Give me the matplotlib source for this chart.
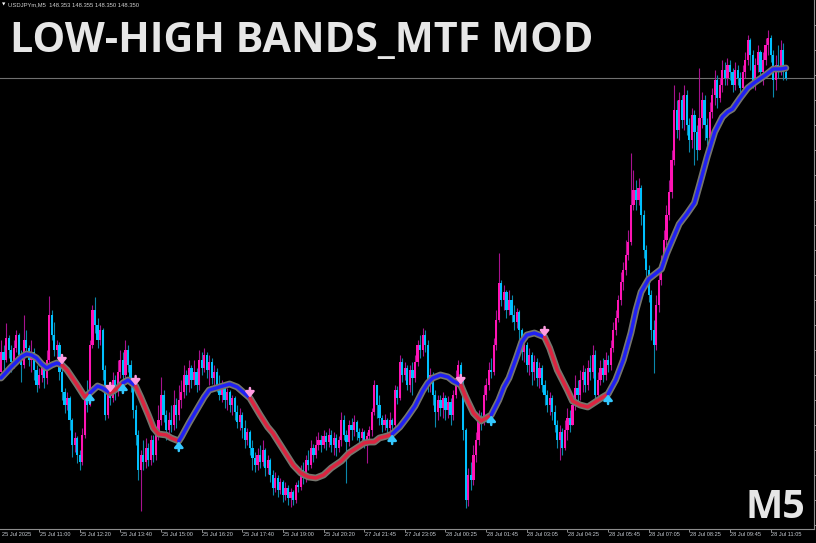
import numpy as np
import matplotlib
matplotlib.use("Agg")
import matplotlib.pyplot as plt
from matplotlib.transforms import blended_transform_factory, offset_copy

# USDJPYm M5 candles (open = previous close)
first_open = 147.174

closes = [
    147.254, 147.222, 147.310, 147.262, 147.214, 147.270, 147.322, 147.242, 147.202, 147.302,
    147.270, 147.222, 147.254, 147.182, 147.122, 147.162, 147.190, 147.150, 147.222, 147.402,
    147.322, 147.262, 147.282, 147.174, 147.094,
    147.042, 147.070, 146.982, 146.882, 146.910, 146.842, 146.814, 146.922, 147.062, 147.042,
    147.282, 147.422, 147.362, 147.302, 147.342, 147.182, 147.002, 147.102, 147.070, 147.142,
    147.094, 147.174, 147.222, 147.162, 147.262,
    147.202, 147.122, 147.022, 146.922, 146.782, 146.842, 146.814, 146.870, 146.822, 146.902,
    146.842, 146.922, 146.982, 147.082, 147.002, 146.942, 146.982, 146.962, 147.042, 147.002,
    147.062, 147.094, 147.162, 147.122, 147.190,
    147.142, 147.174, 147.122, 147.222, 147.190, 147.242, 147.182, 147.214, 147.150, 147.174,
    147.122, 147.082, 147.110, 147.062, 147.094, 147.042, 147.070, 147.014, 146.974, 147.002,
    146.950, 146.902, 146.934, 146.870, 146.830,
    146.802, 146.842, 146.814, 146.862, 146.790, 146.822, 146.762, 146.710, 146.750, 146.702,
    146.734, 146.682, 146.710, 146.670, 146.694, 146.662, 146.722, 146.714, 146.782, 146.750,
    146.822, 146.802, 146.870, 146.842, 146.882,
    146.902, 146.882, 146.918, 146.894, 146.922, 146.882, 146.910, 146.870, 146.902, 146.982,
    146.922, 146.894, 146.962, 146.942, 146.974, 146.934, 146.910, 146.934, 146.902, 146.918,
    146.942, 147.014, 147.122, 147.042, 146.990,
    146.962, 146.982, 146.950, 146.982, 146.962, 147.102, 147.070, 147.214, 147.162, 147.190,
    147.122, 147.182, 147.150, 147.214, 147.282, 147.262, 147.322, 147.282, 147.122, 147.162,
    147.082, 147.014, 147.062, 147.030, 147.070,
    147.022, 147.054, 147.002, 147.082, 147.150, 147.202, 147.122, 146.942, 146.662, 146.762,
    146.742, 146.842, 146.902, 146.990, 146.974, 147.082, 147.122, 147.182, 147.174, 147.282,
    147.382, 147.530, 147.462, 147.494, 147.422,
    147.462, 147.402, 147.374, 147.414, 147.342, 147.254, 147.282, 147.202, 147.242, 147.174,
    147.214, 147.150, 147.190, 147.122, 147.082, 147.042, 147.070, 147.014, 146.962, 146.902,
    146.934, 146.870, 146.942, 146.990, 146.962,
    147.042, 147.110, 147.082, 147.142, 147.174, 147.122, 147.190, 147.174, 147.242, 147.082,
    147.142, 147.190, 147.162, 147.222, 147.202, 147.270, 147.342, 147.390, 147.462, 147.534,
    147.582, 147.642, 147.694, 147.842, 147.902,
    147.862, 147.910, 147.802, 147.662, 147.582, 147.482, 147.342, 147.282, 147.442, 147.542,
    147.614, 147.702, 147.802, 147.894, 148.022, 148.222, 148.142, 148.262, 148.182, 148.282,
    148.162, 148.102, 148.202, 148.134, 148.062,
    148.190, 148.262, 148.162, 148.110, 148.214, 148.282, 148.342, 148.270, 148.322, 148.382,
    148.350, 148.402, 148.374, 148.322, 148.382, 148.350, 148.310, 148.374, 148.422, 148.502,
    148.442, 148.334, 148.402, 148.454, 148.374, 148.422, 148.482, 148.510, 148.442, 148.342,
    148.402, 148.382, 148.462, 148.374, 148.350,
]

highs = [
    147.302, 147.282, 147.370, 147.322, 147.282, 147.302, 147.342, 147.330, 147.262, 147.402,
    147.342, 147.282, 147.302, 147.270, 147.202, 147.190, 147.222, 147.214, 147.262, 147.478,
    147.422, 147.374, 147.302, 147.294, 147.190,
    147.110, 147.094, 147.078, 146.990, 146.934, 146.918, 146.862, 146.950, 147.082, 147.142,
    147.302, 147.442, 147.474, 147.390, 147.362, 147.350, 147.202, 147.122, 147.134, 147.174,
    147.162, 147.222, 147.262, 147.254, 147.302,
    147.282, 147.222, 147.134, 147.042, 146.942, 146.862, 146.902, 146.910, 146.890, 146.922,
    146.922, 146.942, 147.042, 147.154, 147.102, 147.022, 147.014, 147.042, 147.102, 147.070,
    147.122, 147.142, 147.202, 147.182, 147.222,
    147.202, 147.222, 147.190, 147.262, 147.254, 147.270, 147.254, 147.242, 147.230, 147.202,
    147.190, 147.162, 147.142, 147.122, 147.110, 147.102, 147.082, 147.078, 147.042, 147.030,
    147.014, 146.982, 146.950, 146.942, 146.902,
    146.854, 146.870, 146.882, 146.902, 146.870, 146.842, 146.830, 146.782, 146.774, 146.762,
    146.750, 146.742, 146.734, 146.722, 146.710, 146.702, 146.734, 146.742, 146.802, 146.814,
    146.842, 146.862, 146.902, 146.886, 146.918,
    146.934, 146.922, 146.942, 146.934, 146.950, 146.942, 146.934, 146.926, 146.918, 147.014,
    147.002, 146.942, 146.982, 146.990, 147.002, 146.982, 146.950, 146.950, 146.942, 146.934,
    146.958, 147.030, 147.142, 147.118, 147.082,
    147.002, 147.006, 146.990, 147.014, 146.990, 147.122, 147.118, 147.242, 147.230, 147.214,
    147.202, 147.202, 147.214, 147.242, 147.302, 147.322, 147.350, 147.342, 147.302, 147.190,
    147.174, 147.102, 147.082, 147.082, 147.094,
    147.082, 147.078, 147.070, 147.102, 147.182, 147.222, 147.214, 147.142, 146.950, 146.790,
    146.814, 146.882, 146.934, 147.022, 147.014, 147.122, 147.150, 147.214, 147.230, 147.310,
    147.422, 147.650, 147.542, 147.522, 147.502,
    147.502, 147.482, 147.442, 147.430, 147.422, 147.350, 147.322, 147.294, 147.270, 147.254,
    147.242, 147.230, 147.214, 147.202, 147.142, 147.102, 147.094, 147.082, 147.042, 146.982,
    146.962, 146.950, 146.982, 147.030, 147.022,
    147.082, 147.162, 147.142, 147.182, 147.202, 147.190, 147.222, 147.242, 147.282, 147.262,
    147.174, 147.222, 147.230, 147.254, 147.242, 147.302, 147.374, 147.422, 147.482, 147.574,
    147.614, 147.702, 147.742, 148.050, 147.982,
    147.942, 147.950, 147.922, 147.822, 147.682, 147.602, 147.502, 147.382, 147.482, 147.582,
    147.642, 147.742, 147.842, 147.942, 148.062, 148.322, 148.262, 148.294, 148.282, 148.322,
    148.302, 148.190, 148.230, 148.222, 148.162,
    148.390, 148.294, 148.282, 148.190, 148.254, 148.310, 148.382, 148.362, 148.350, 148.422,
    148.414, 148.430, 148.422, 148.390, 148.414, 148.402, 148.374, 148.402, 148.454, 148.522,
    148.510, 148.462, 148.430, 148.482, 148.462, 148.454, 148.510, 148.542, 148.522, 148.462,
    148.442, 148.482, 148.502, 148.490, 148.382,
]

lows = [
    147.174, 147.182, 147.214, 147.230, 147.174, 147.190, 147.254, 147.214, 147.134, 147.190,
    147.238, 147.198, 147.174, 147.142, 147.094, 147.110, 147.134, 147.110, 147.126, 147.214,
    147.302, 147.238, 147.230, 147.142, 147.062,
    147.010, 147.022, 146.942, 146.834, 146.854, 146.810, 146.782, 146.802, 146.910, 147.014,
    147.038, 147.270, 147.330, 147.270, 147.282, 147.142, 146.982, 146.990, 147.042, 147.054,
    147.062, 147.078, 147.150, 147.134, 147.150,
    147.174, 147.094, 146.990, 146.882, 146.742, 146.618, 146.782, 146.790, 146.798, 146.802,
    146.814, 146.822, 146.902, 146.962, 146.974, 146.902, 146.918, 146.934, 146.942, 146.950,
    146.982, 147.030, 147.070, 147.082, 147.094,
    147.110, 147.122, 147.094, 147.102, 147.162, 147.174, 147.150, 147.122, 147.126, 147.102,
    147.094, 147.062, 147.054, 147.030, 147.022, 147.014, 147.002, 146.982, 146.950, 146.942,
    146.910, 146.870, 146.882, 146.842, 146.782,
    146.774, 146.782, 146.790, 146.798, 146.758, 146.766, 146.734, 146.682, 146.694, 146.674,
    146.686, 146.654, 146.662, 146.642, 146.634, 146.642, 146.650, 146.694, 146.702, 146.726,
    146.734, 146.782, 146.790, 146.814, 146.830,
    146.862, 146.854, 146.870, 146.862, 146.874, 146.854, 146.842, 146.838, 146.854, 146.878,
    146.902, 146.730, 146.878, 146.902, 146.918, 146.902, 146.882, 146.894, 146.870, 146.810,
    146.894, 146.918, 147.002, 146.990, 146.962,
    146.934, 146.942, 146.918, 146.934, 146.926, 146.950, 147.046, 147.062, 147.134, 147.142,
    147.102, 147.094, 147.082, 147.134, 147.198, 147.230, 147.238, 147.254, 147.094, 147.094,
    147.042, 146.954, 146.982, 146.998, 146.990,
    146.982, 146.990, 146.962, 146.982, 147.070, 147.122, 147.094, 146.902, 146.630, 146.638,
    146.702, 146.722, 146.814, 146.882, 146.942, 146.962, 147.062, 147.102, 147.150, 147.162,
    147.262, 147.374, 147.438, 147.422, 147.390,
    147.402, 147.374, 147.342, 147.350, 147.302, 147.222, 147.214, 147.174, 147.162, 147.122,
    147.142, 147.118, 147.110, 147.094, 147.042, 147.014, 147.002, 146.982, 146.934, 146.870,
    146.822, 146.842, 146.862, 146.902, 146.934,
    147.014, 147.022, 147.054, 147.062, 147.094, 147.094, 147.102, 147.142, 147.150, 147.050,
    147.062, 147.122, 147.134, 147.142, 147.174, 147.182, 147.254, 147.322, 147.374, 147.442,
    147.502, 147.562, 147.622, 147.682, 147.822,
    147.822, 147.842, 147.762, 147.630, 147.542, 147.454, 147.302, 147.170, 147.262, 147.414,
    147.522, 147.590, 147.682, 147.782, 147.870, 148.002, 148.110, 148.102, 148.150, 148.142,
    148.122, 148.054, 148.070, 148.002, 148.022,
    148.162, 148.150, 148.102, 148.082, 148.094, 148.190, 148.242, 148.230, 148.254, 148.294,
    148.322, 148.322, 148.342, 148.294, 148.302, 148.322, 148.282, 148.294, 148.350, 148.402,
    148.382, 148.310, 148.302, 148.374, 148.342, 148.322, 148.402, 148.442, 148.414, 148.274,
    148.302, 148.350, 148.362, 148.342, 148.342,
]

# Low-High band centre line (sampled at these bar numbers)
band_bars = [0, 4, 8, 10, 12, 14, 16, 18, 20, 22, 24, 26, 30, 33, 35, 38, 40, 43, 46, 48,
             50, 53, 55, 58, 60, 62, 65, 67, 70, 71, 74, 77, 80, 82, 86, 90, 93, 98, 102, 105,
             107, 112, 115, 118, 121, 124, 127, 130, 134, 137, 140, 143, 145, 147, 149, 152, 154, 157, 160, 163,
             166, 168, 170, 173, 176, 178, 181, 183, 186, 189, 191, 193, 196, 198, 200, 203, 205, 207, 210, 214,
             216, 219, 223, 225, 228, 231, 234, 237, 239, 242, 245, 248, 250, 252, 255, 258, 260, 262, 265, 267,
             270, 273, 275, 278, 281, 284, 286, 288, 291, 294, 297, 301, 304, 307, 309]
band_vals = [147.150, 147.194, 147.234, 147.246, 147.242, 147.230, 147.206, 147.190, 147.202, 147.210,
             147.202, 147.182, 147.122, 147.074, 147.090, 147.118, 147.110, 147.090, 147.110, 147.130,
             147.142, 147.118, 147.074, 147.002, 146.950, 146.926, 146.922, 146.910, 146.898, 146.914,
             146.970, 147.022, 147.074, 147.102, 147.114, 147.126, 147.114, 147.070, 147.002, 146.954,
             146.930, 146.850, 146.802, 146.770, 146.754, 146.750, 146.762, 146.790, 146.818, 146.850,
             146.870, 146.890, 146.894, 146.894, 146.910, 146.918, 146.926, 146.954, 146.994, 147.038,
             147.098, 147.130, 147.150, 147.162, 147.154, 147.138, 147.122, 147.074, 147.010, 146.978,
             146.990, 147.002, 147.062, 147.114, 147.150, 147.234, 147.294, 147.322, 147.330, 147.314,
             147.270, 147.182, 147.102, 147.058, 147.042, 147.034, 147.054, 147.074, 147.086, 147.142,
             147.222, 147.330, 147.422, 147.494, 147.546, 147.570, 147.586, 147.646, 147.718, 147.766,
             147.806, 147.850, 147.922, 148.034, 148.134, 148.194, 148.214, 148.226, 148.270, 148.310,
             148.334, 148.362, 148.386, 148.386, 148.390]

down_arrows = [24, 43, 53, 98, 181, 214]
up_arrows = [35, 48, 70, 154, 193, 239]

bid = 148.350
header = "USDJPYm,M5  148.353 148.355 148.350 148.350"
title = "LOW-HIGH BANDS_MTF MOD"
tf_label = "M5"

time_bars = [0, 15, 31, 47, 63, 79, 95, 111, 127, 143, 159, 175, 191, 207, 223, 239, 255, 271, 287, 303]
time_labels = ["25 Jul 2025", "25 Jul 11:00", "25 Jul 12:20", "25 Jul 13:40", "25 Jul 15:00",
               "25 Jul 16:20", "25 Jul 17:40", "25 Jul 19:00", "25 Jul 20:20", "27 Jul 21:45",
               "27 Jul 23:05", "28 Jul 00:25", "28 Jul 01:45", "28 Jul 03:05", "28 Jul 04:25",
               "28 Jul 05:45", "28 Jul 07:05", "28 Jul 08:25", "28 Jul 09:45", "28 Jul 11:05"]

UP_BODY, UP_WICK = "#ff14b4", "#a8128f"
DN_BODY, DN_WICK = "#00c0ff", "#0a88ac"
AXIS_COL = "#8c8c8c"

c = np.array(closes)
o = np.concatenate([[first_open], c[:-1]])
h = np.maximum(np.array(highs), np.maximum(o, c))
l = np.minimum(np.array(lows), np.minimum(o, c))
x = np.arange(len(c))
up = c >= o

fig = plt.figure(figsize=(8.16, 5.43), dpi=100, facecolor="black")
ax = fig.add_axes([0, 14 / 543, 814 / 816, 529 / 543])
ax.set_facecolor("black")

ax.axhline(bid, color="#707070", lw=0.8, zorder=1.5)

# candles
ax.vlines(x, l, h, colors=np.where(up, UP_WICK, DN_WICK), lw=0.8, zorder=2)
ax.bar(x, np.maximum(np.abs(c - o), 0.004), bottom=np.minimum(o, c), width=0.86,
       color=np.where(up, UP_BODY, DN_BODY), linewidth=0, zorder=3)

# band line: grey outline, then coloured by trend
bb = np.array(band_bars)
bv = np.array(band_vals)
ax.plot(bb, bv, color="#76766e", lw=4.9, solid_capstyle="round", solid_joinstyle="round", zorder=4)
switches = sorted([(0, "up")] + [(i, "dn") for i in down_arrows] + [(i, "up") for i in up_arrows])
for k, (start, trend) in enumerate(switches):
    end = switches[k + 1][0] if k + 1 < len(switches) else bb[-1]
    m = (bb >= start) & (bb <= end)
    ax.plot(bb[m], bv[m], color="#2020f4" if trend == "up" else "#dc2440", lw=2.5,
            solid_capstyle="round", solid_joinstyle="round", zorder=5)

# trend change arrows
lookup = dict(zip(band_bars, band_vals))
for i in down_arrows:
    ax.annotate("", xy=(i, lookup[i] + 0.002), xytext=(i, lookup[i] + 0.040), zorder=6,
                arrowprops=dict(arrowstyle="-|>,head_width=0.26,head_length=0.32", color="#ff9be0",
                                lw=1.8, mutation_scale=10, shrinkA=0, shrinkB=0))
for i in up_arrows:
    ax.annotate("", xy=(i, lookup[i] - 0.002), xytext=(i, lookup[i] - 0.040), zorder=6,
                arrowprops=dict(arrowstyle="-|>,head_width=0.26,head_length=0.32", color="#34c8ff",
                                lw=1.8, mutation_scale=10, shrinkA=0, shrinkB=0))

ax.set_xlim(-0.394, 320.08)
ax.set_ylim(146.546, 148.662)

for s in ["top", "left"]:
    ax.spines[s].set_visible(False)
for s in ["bottom", "right"]:
    ax.spines[s].set_color(AXIS_COL)
    ax.spines[s].set_linewidth(0.8)

ax.yaxis.tick_right()
ax.set_yticks(np.arange(146.562, 148.6, 0.1))
ax.set_yticklabels([])
ax.set_xticks(time_bars[1:])
ax.set_xticklabels([])
ax.tick_params(axis="both", colors=AXIS_COL, length=2.5, width=0.7, direction="out")

trans = offset_copy(blended_transform_factory(ax.transData, ax.transAxes), fig=fig, x=0.5, y=-3.2, units="dots")
for b, lab in zip(time_bars, time_labels):
    ax.text(b, 0, lab, transform=trans, ha="left", va="top", fontsize=4.1,
            family="Liberation Sans", color="#c8cdd4", clip_on=False)

fig.text(3.5 / 816, 1 - 5 / 543, "\u25bc", fontsize=3.2, color="white", ha="center", va="center")
fig.text(8 / 816, 1 - 5 / 543, header, fontsize=4.2, family="Liberation Sans",
         color="#d0d0d0", ha="left", va="center")

fig.text(10 / 816, 1 - 52 / 543, title, fontsize=29.7, family="Open Sans", fontweight="bold",
         color="#e6e6e6", ha="left", va="baseline")
fig.text(805 / 816, 1 - 518 / 543, tf_label, fontsize=28.5, family="Open Sans", fontweight="bold",
         color="#e6e6e6", ha="right", va="baseline")

fig.savefig("out.png", dpi=100, facecolor="black")
